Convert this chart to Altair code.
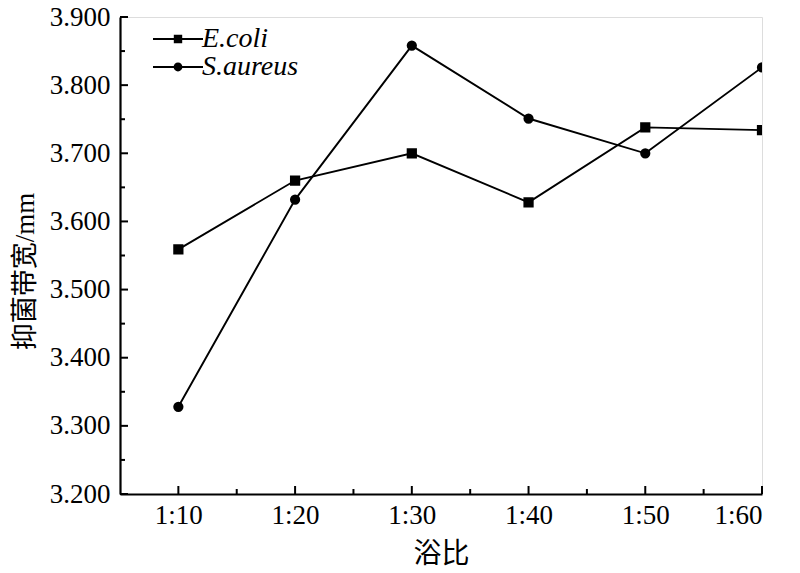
import altair as alt
import pandas as pd

ratios = ["1:10", "1:20", "1:30", "1:40", "1:50", "1:60"]
ecoli = [3.559, 3.660, 3.700, 3.628, 3.738, 3.734]
saureus = [3.328, 3.632, 3.858, 3.751, 3.700, 3.826]
series_names = ["E.coli", "S.aureus"]
y_major = [3.2, 3.3, 3.4, 3.5, 3.6, 3.7, 3.8, 3.9]
y_minor = [3.25, 3.35, 3.45, 3.55, 3.65, 3.75, 3.85]
x_major = [1, 2, 3, 4, 5, 6]
x_minor = [1.5, 2.5, 3.5, 4.5, 5.5]

rows = []
for i, r in enumerate(ratios):
    rows.append(dict(idx=i + 1, ratio=r, series=series_names[0], value=ecoli[i]))
    rows.append(dict(idx=i + 1, ratio=r, series=series_names[1], value=saureus[i]))
df = pd.DataFrame(rows)

W, H = 642, 477
SERIF = "Times New Roman, Liberation Serif, serif"
SERIF_CJK = "Times New Roman, Liberation Serif, Noto Sans CJK SC, serif"
xs = alt.Scale(domain=[0.5, 6], nice=False, zero=False)
ys = alt.Scale(domain=[3.2, 3.9], nice=False, zero=False)
label_expr = "[" + ",".join("'%s'" % r for r in ratios) + "][datum.value-1]"

base = alt.Chart(df)

lines = base.mark_line(color="black", strokeWidth=1.9, clip=True).encode(
    x=alt.X("idx:Q", scale=xs,
            axis=alt.Axis(values=x_major, labelExpr=label_expr, ticks=False,
                          domainColor="black", domainWidth=2.2, grid=False,
                          labelFont=SERIF, labelFontSize=27, labelColor="black",
                          labelPadding=8, title="浴比", titleFont=SERIF_CJK,
                          titleFontSize=28, titleFontWeight="normal", titleColor="black",
                          titlePadding=12)),
    y=alt.Y("value:Q", scale=ys,
            axis=alt.Axis(values=y_major, format=".3f", ticks=False,
                          domainColor="black", domainWidth=2.2, grid=False,
                          labelFont=SERIF, labelFontSize=27, labelColor="black",
                          labelPadding=10, title="抑菌带宽/mm", titleFont=SERIF_CJK,
                          titleFontSize=27, titleFontWeight="normal", titleColor="black",
                          titlePadding=10, titleY=254)),
    detail="series:N",
)

points = base.mark_point(fill="black", stroke="black", opacity=1, clip=True, size=68).encode(
    x=alt.X("idx:Q", scale=xs),
    y=alt.Y("value:Q", scale=ys),
    shape=alt.Shape("series:N", scale=alt.Scale(domain=series_names, range=["square", "circle"]),
                    legend=None),
)


def x_ticks(vals, size):
    d = pd.DataFrame({"v": vals})
    return alt.Chart(d).mark_rule(color="black", strokeWidth=2).encode(
        x=alt.X("v:Q", scale=xs),
        y=alt.value(H),
        y2=alt.value(H - size),
    )


def y_ticks(vals, size):
    d = pd.DataFrame({"v": vals})
    return alt.Chart(d).mark_rule(color="black", strokeWidth=2).encode(
        y=alt.Y("v:Q", scale=ys),
        x=alt.value(0),
        x2=alt.value(size),
    )


t = 0.09
line_sq = ("M-2.5,-{t}H-0.4V{t}H-2.5Z M0.4,-{t}H2.5V{t}H0.4Z "
           "M-0.42,-0.42H0.42V0.42H-0.42Z").format(t=t)
line_ci = ("M-2.5,-{t}H-0.4V{t}H-2.5Z M0.4,-{t}H2.5V{t}H0.4Z "
           "M0.44,0 A0.44,0.44 0 1,1 -0.44,0 A0.44,0.44 0 1,1 0.44,0 Z").format(t=t)

legend_layer = base.transform_filter("false").mark_point(
    fill="black", stroke="black", strokeWidth=0, opacity=1
).encode(
    x=alt.X("idx:Q", scale=xs),
    y=alt.Y("value:Q", scale=ys),
    shape=alt.Shape("series:N",
                    scale=alt.Scale(domain=series_names, range=[line_sq, line_ci]),
                    legend=alt.Legend(orient="none", legendX=44, legendY=8, title=None,
                                      symbolSize=400, symbolFillColor="black",
                                      symbolStrokeWidth=0,
                                      labelFont=SERIF, labelFontStyle="italic",
                                      labelFontSize=28, labelColor="black",
                                      labelOffset=10, rowPadding=0, padding=0)),
)

chart = alt.layer(
    lines, points,
    x_ticks(x_major, 8), x_ticks(x_minor, 5),
    y_ticks(y_major, 8), y_ticks(y_minor, 5),
    legend_layer,
).resolve_scale(shape="independent").properties(
    width=W, height=H,
    autosize=alt.AutoSizeParams(type="none"),
    padding={"left": 112, "top": 9, "right": 30, "bottom": 78},
).configure_view(stroke=None).configure(background="white", font=SERIF)

chart.save("out.html", embed_options={"renderer": "svg", "actions": False})
